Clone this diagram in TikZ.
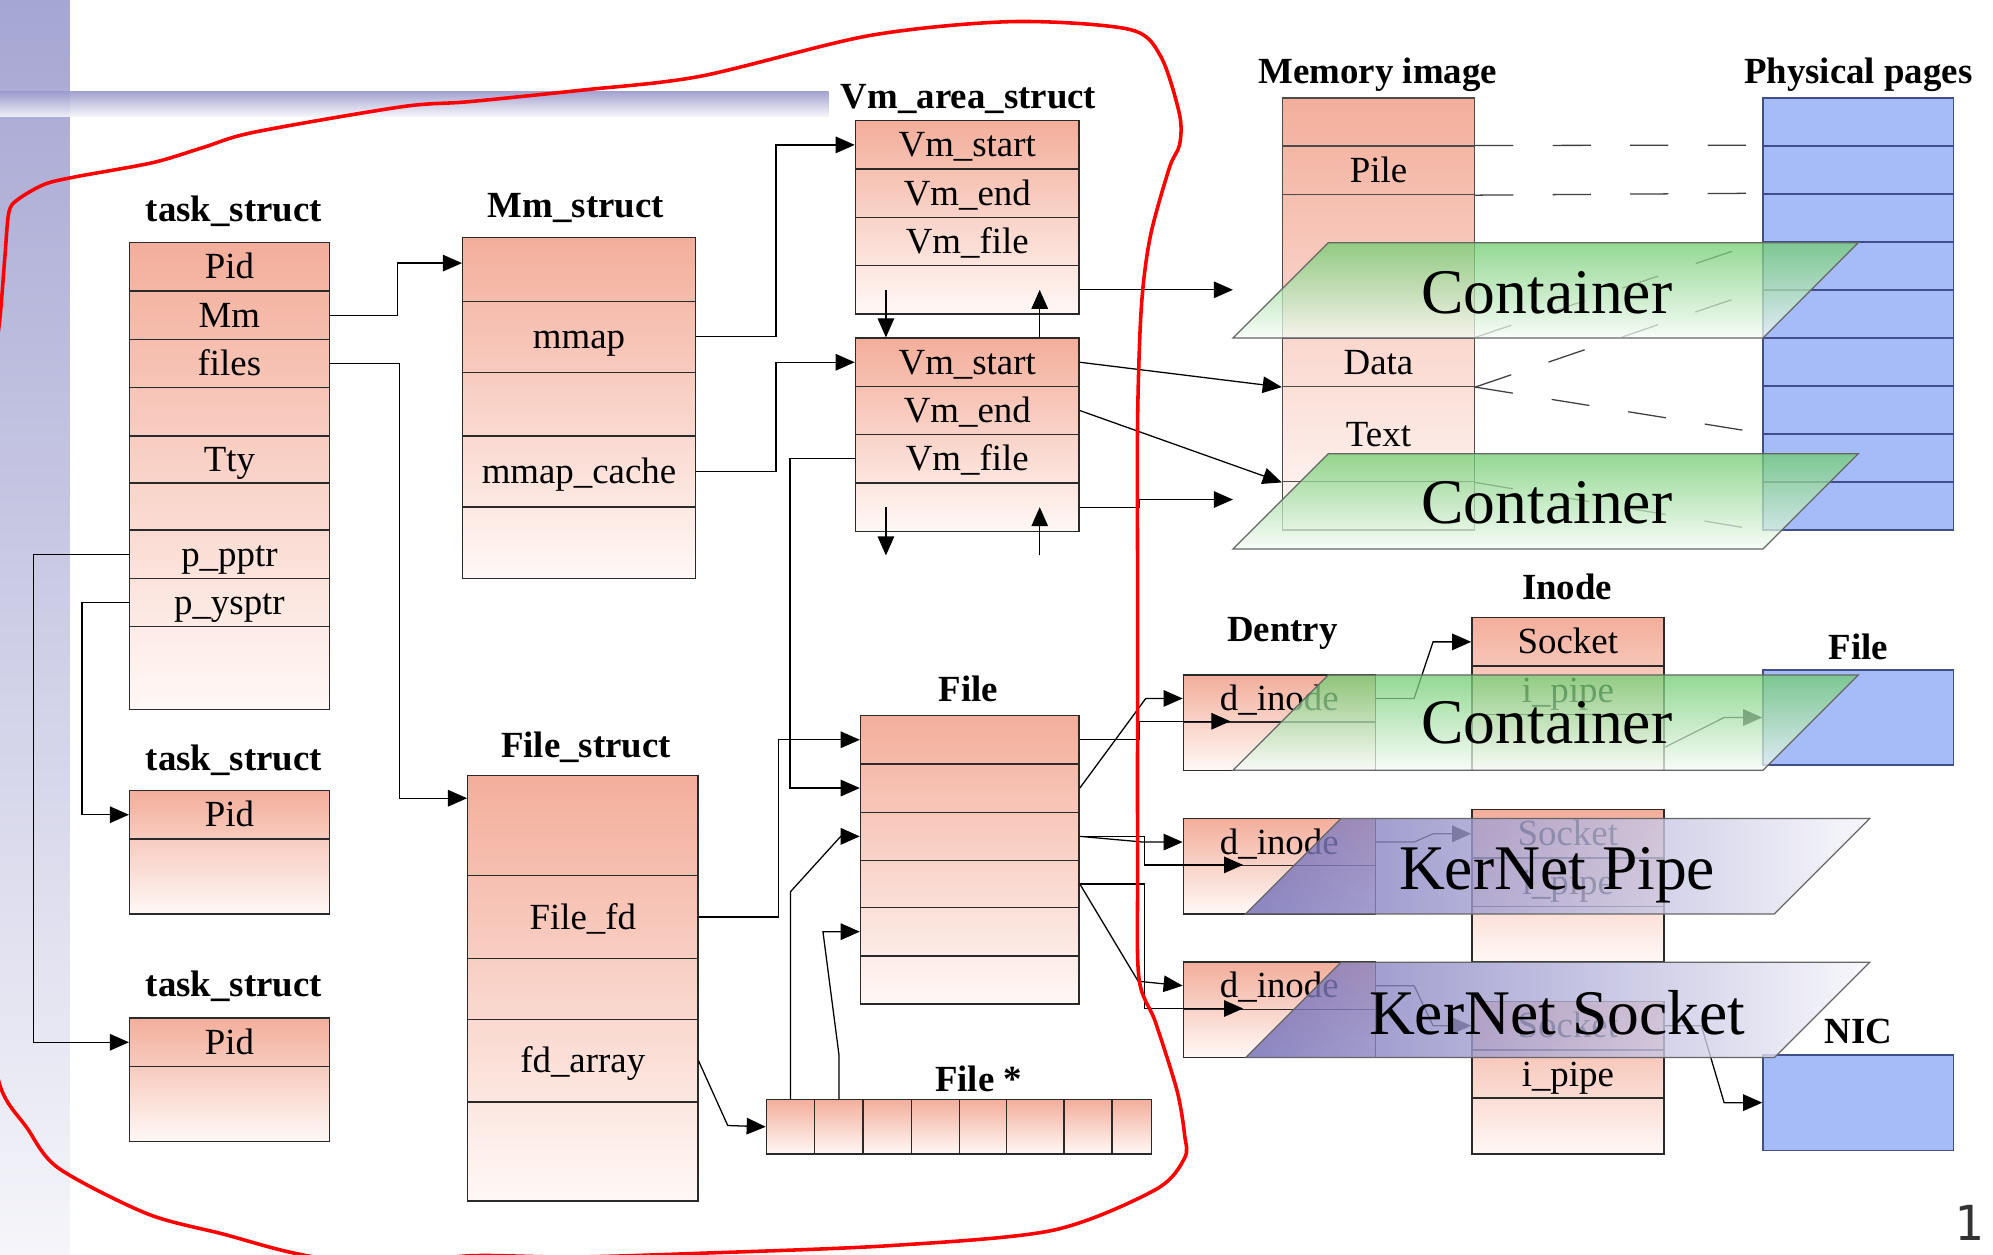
\documentclass[tikz,border=0pt]{standalone}
\usepackage{fontspec}
\setmainfont{Liberation Serif}
\newfontfamily\pgnum{DejaVu Sans Mono}
\usetikzlibrary{arrows.meta,calc}
\definecolor{salT}{HTML}{F3AE9B}
\definecolor{salB}{HTML}{FFF8F6}
\definecolor{lineC}{HTML}{2A2A2A}
\definecolor{physB}{HTML}{A5BCF9}
\definecolor{physL}{HTML}{404E8C}
\definecolor{grnT}{HTML}{70CC70}
\definecolor{grnB}{HTML}{F6FCF6}
\definecolor{purL}{HTML}{6F6AB6}
\definecolor{purR}{HTML}{F6F6FB}
\definecolor{stripT}{HTML}{A6A6D3}
\definecolor{stripB}{HTML}{F5F5FA}
\definecolor{barT}{HTML}{9A9ACD}
\definecolor{redC}{HTML}{FF0000}
\begin{document}
\begin{tikzpicture}[x=1pt,y=-1pt,
  row/.style={draw=lineC, line width=1.1pt, inner sep=0pt, text height=22pt, text depth=3pt, font=\fontsize{29pt}{30pt}\selectfont},
  ttl/.style={inner sep=0pt, text height=24pt, text depth=2pt, font=\fontsize{29pt}{30pt}\selectfont\bfseries},
  big/.style={inner sep=0pt, text height=34pt, text depth=0pt, font=\fontsize{50pt}{52pt}\selectfont},
  tsw/.style={minimum width=157pt},
  mmw/.style={minimum width=183pt},
  vmw/.style={minimum width=176pt},
  fsw/.style={minimum width=181pt},
  flw/.style={minimum width=172pt},
  mw/.style={minimum width=151pt},
  cell/.style={row, minimum height=43pt},
  physbox/.style={draw=physL, fill=physB, line width=1.1pt, inner sep=0pt, minimum width=150pt},
  conn/.style={draw=black, line width=1pt, -{Triangle[length=15pt,width=13pt]}},
  dsh/.style={draw=black!75, line width=1pt, dash pattern=on 30pt off 31pt},
  salshade/.style={top color=salT, bottom color=salB}
]
\useasboundingbox (0,0) rectangle (1568,987);
\clip (0,0) rectangle (1568,987);
\fill[white] (0,0) rectangle (1568,987);
% background decoration
\shade[top color=stripT, bottom color=stripB] (0,0) rectangle (55,987);
\shade[top color=barT, bottom color=barT!8, fill opacity=0.9] (0,72) rectangle (652,92);

% ---------- task_struct 1
\shade[salshade] (102,191) rectangle (259,558);
\node[row,tsw,minimum height=38pt] (t1pid) at (180.5,210) {Pid};
\node[row,tsw,minimum height=38pt] (t1mm) at (180.5,248) {Mm};
\node[row,tsw,minimum height=38pt] (t1files) at (180.5,286) {files};
\node[row,tsw,minimum height=38pt] (t1e1) at (180.5,324) {};
\node[row,tsw,minimum height=37pt] (t1tty) at (180.5,361.5) {Tty};
\node[row,tsw,minimum height=37pt] (t1e2) at (180.5,398.5) {};
\node[row,tsw,minimum height=38pt] (t1pp) at (180.5,436) {p\_pptr};
\node[row,tsw,minimum height=38pt] (t1ys) at (180.5,474) {p\_ysptr};
\node[row,tsw,minimum height=65pt] (t1e3) at (180.5,525.5) {};
\node[ttl] (t1ttl) at (184,163) {task\_struct};
% task_struct 2
\shade[salshade] (102,622) rectangle (259,719);
\node[row,tsw,minimum height=38pt] (t2pid) at (180.5,641) {Pid};
\node[row,tsw,minimum height=59pt] (t2e) at (180.5,689.5) {};
\node[ttl] (t2ttl) at (184,595) {task\_struct};
% task_struct 3
\shade[salshade] (102,801) rectangle (259,898);
\node[row,tsw,minimum height=38pt] (t3pid) at (180.5,820) {Pid};
\node[row,tsw,minimum height=59pt] (t3e) at (180.5,868.5) {};
\node[ttl] (t3ttl) at (184,773) {task\_struct};

% ---------- Mm_struct
\shade[salshade] (364,187) rectangle (547,455);
\node[row,mmw,minimum height=50pt] (mm1) at (455.5,212) {};
\node[row,mmw,minimum height=56pt] (mmmap) at (455.5,265) {mmap};
\node[row,mmw,minimum height=50pt] (mm3) at (455.5,318) {};
\node[row,mmw,minimum height=56pt] (mmcache) at (455.5,371) {mmap\_cache};
\node[row,mmw,minimum height=56pt] (mm5) at (455.5,427) {};
\node[ttl] (mmttl) at (453,160) {Mm\_struct};

% ---------- Vm_area_struct
\shade[salshade] (673,95) rectangle (849,247);
\node[row,vmw,minimum height=38pt] (v1s) at (761,114) {Vm\_start};
\node[row,vmw,minimum height=38pt] (v1en) at (761,152) {Vm\_end};
\node[row,vmw,minimum height=38pt] (v1f) at (761,190) {Vm\_file};
\node[row,vmw,minimum height=38pt] (v1e) at (761,228) {};
\shade[salshade] (673,266) rectangle (849,418);
\node[row,vmw,minimum height=38pt] (v2s) at (761,285) {Vm\_start};
\node[row,vmw,minimum height=38pt] (v2en) at (761,323) {Vm\_end};
\node[row,vmw,minimum height=38pt] (v2f) at (761,361) {Vm\_file};
\node[row,vmw,minimum height=38pt] (v2e) at (761,399) {};
\node[ttl] (vmttl) at (762,74) {Vm\_area\_struct};

% ---------- File_struct
\shade[salshade] (368,610) rectangle (549,945);
\node[row,fsw,minimum height=79pt] (fs1) at (458.5,649.5) {};
\node[row,fsw,minimum height=65pt] (fsfd) at (458.5,721.5) {File\_fd};
\node[row,fsw,minimum height=48pt] (fs3) at (458.5,778) {};
\node[row,fsw,minimum height=65pt] (fsarr) at (458.5,834.5) {fd\_array};
\node[row,fsw,minimum height=78pt] (fs5) at (458.5,906) {};
\node[ttl] (fsttl) at (461,585) {File\_struct};

% ---------- File
\shade[salshade] (677,563) rectangle (849,790);
\node[row,flw,minimum height=38pt] (f1) at (763,582) {};
\node[row,flw,minimum height=38pt] (f2) at (763,620) {};
\node[row,flw,minimum height=38pt] (f3) at (763,658) {};
\node[row,flw,minimum height=37pt] (f4) at (763,695.5) {};
\node[row,flw,minimum height=38pt] (f5) at (763,733) {};
\node[row,flw,minimum height=38pt] (f6) at (763,771) {};
\node[ttl] (flttl) at (762,541) {File};

% ---------- File * array
\shade[salshade] (603,865) rectangle (906,908);
\node[cell,minimum width=38pt] (fa1) at (622,886.5) {};
\node[cell,minimum width=38pt] (fa2) at (660,886.5) {};
\node[cell,minimum width=38pt] (fa3) at (698,886.5) {};
\node[cell,minimum width=38pt] (fa4) at (736,886.5) {};
\node[cell,minimum width=37pt] (fa5) at (773.5,886.5) {};
\node[cell,minimum width=45pt] (fa6) at (814.5,886.5) {};
\node[cell,minimum width=38pt] (fa7) at (856,886.5) {};
\node[cell,minimum width=31pt] (fa8) at (890.5,886.5) {};
\node[ttl] (fattl) at (770,848) {File *};

% ---------- Memory image
\shade[salshade] (1009,77) rectangle (1160,417);
\node[row,mw,minimum height=38pt,draw=black!70] (m1) at (1084.5,96) {};
\node[row,mw,minimum height=38pt,draw=black!70] (mpile) at (1084.5,134) {Pile};
\node[row,mw,minimum height=113pt,draw=black!70] (m3) at (1084.5,209.5) {};
\node[row,mw,minimum height=38pt,draw=black!70] (mdata) at (1084.5,285) {Data};
\node[row,mw,minimum height=75pt,draw=black!70] (mtext) at (1084.5,341.5) {Text};
\node[row,mw,minimum height=38pt,draw=black!70] (m6) at (1084.5,398) {};
\node[ttl] (mttl) at (1084,55) {Memory image};

% ---------- Physical pages
\foreach \i in {0,...,8} {
  \node[physbox,minimum height=37.78pt] (pp\i) at (1462,{77+37.78*(\i+0.5)}) {};
}
\node[ttl] (ppttl) at (1462,55) {Physical pages};

% dashed mapping lines
\draw[dsh] (mpile.north east) -- (pp1.north west);
\draw[dsh] (mpile.south east) -- (pp2.north west);
\draw[dsh] (mdata.north east) -- (pp3.north west);
\draw[dsh] (mdata.south east) -- (pp4.north west);
\draw[dsh] (mdata.south east) -- (pp7.north west);
\draw[dsh] (mtext.south east) -- (pp8.south west);

% ---------- Dentry
\shade[salshade] (931,531) rectangle (1082,606);
\node[row,mw,minimum height=37pt] (d1a) at (1006.5,549.5) {d\_inode};
\node[row,mw,minimum height=38pt] (d1b) at (1006.5,587) {};
\shade[salshade] (931,644) rectangle (1082,719);
\node[row,mw,minimum height=37pt] (d2a) at (1006.5,662.5) {d\_inode};
\node[row,mw,minimum height=38pt] (d2b) at (1006.5,700) {};
\shade[salshade] (931,757) rectangle (1082,832);
\node[row,mw,minimum height=37pt] (d3a) at (1006.5,775.5) {d\_inode};
\node[row,mw,minimum height=38pt] (d3b) at (1006.5,813) {};
\node[ttl] (dttl) at (1009,494) {Dentry};

% ---------- Inode
\shade[salshade] (1158,486) rectangle (1309,606);
\node[row,mw,minimum height=38pt] (i1s) at (1233.5,505) {Socket};
\node[row,mw,minimum height=38pt] (i1p) at (1233.5,543) {i\_pipe};
\node[row,mw,minimum height=44pt] (i1e) at (1233.5,584) {};
\shade[salshade] (1158,637) rectangle (1309,757);
\node[row,mw,minimum height=38pt] (i2s) at (1233.5,656) {Socket};
\node[row,mw,minimum height=38pt] (i2p) at (1233.5,694) {i\_pipe};
\node[row,mw,minimum height=44pt] (i2e) at (1233.5,735) {};
\shade[salshade] (1158,788) rectangle (1309,908);
\node[row,mw,minimum height=38pt] (i3s) at (1233.5,807) {Socket};
\node[row,mw,minimum height=38pt] (i3p) at (1233.5,845) {i\_pipe};
\node[row,mw,minimum height=44pt] (i3e) at (1233.5,886) {};
\node[ttl] (ittl) at (1233,461) {Inode};

% ---------- File / NIC
\node[physbox,minimum height=75pt] (fR) at (1462,564.5) {};
\node[ttl] (fRttl) at (1462,508) {File};
\node[physbox,minimum height=75pt] (nic) at (1462,867.5) {};
\node[ttl] (nicttl) at (1462,810) {NIC};

% ---------- connectors
\draw[conn] (t1mm.east) -- ++(53,0) |- ([yshift=5pt]mm1.west);
\draw[conn] (t1files.east) -- ++(55,0) |- ([yshift=21.5pt]fs1.west);
\draw[conn] (mmmap.east) -- ++(63,0) |- (v1s.west);
\draw[conn] (mmcache.east) -- ++(63,0) |- (v2s.west);
\draw[conn] (t1pp.west) -- ++(-75,0) |- (t3pid.west);
\draw[conn] (t1ys.west) -- ++(-37,0) |- (t2pid.west);
\draw[conn] ([xshift=-64pt]v1e.center) -- ([xshift=-64pt]v2s.north);
\draw[conn] ([xshift=57pt]v2s.north) -- ([xshift=57pt]v1e.center);
\coordinate (v2dn) at (697,437);
\coordinate (v2up) at (818,437);
\draw[conn] ([xshift=-64pt]v2e.center) -- (v2dn);
\draw[conn] (v2up) -- ([xshift=57pt]v2e.center);
\coordinate (c1in) at (970,228);
\coordinate (c2in) at (970,393);
\draw[conn] (v1e.east) -- (c1in);
\draw[conn] (v2s.east) -- (mdata.south west);
\draw[conn] (v2en.east) -- (mtext.south west);
\draw[conn] (v2e.east) -- ++(47,0) |- (c2in);
\draw[conn] (fsfd.east) -- ++(63,0) |- (f1.west);
\draw[conn] (v2f.west) -- ++(-51,0) |- (f2.west);
\draw[conn] (fsarr.east) -- ++(23,51) -- (fa1.west);
\draw[conn] (fa1.north) -- ++(0,-163) -- ([xshift=-15pt]f3.west) -- (f3.west);
\draw[conn] (fa2.north) -- ++(0,-35) -- ([xshift=-29pt]f5.west) -- (f5.west);
\draw[conn] (f2.east) -- ([xshift=-29pt]d1a.west) -- (d1a.west);
\draw[conn] (f1.east) -- ++(47,0) |- ([xshift=-38.5pt]d1b.north);
\draw[conn] (f3.east) -- ([xshift=-31pt]d2a.west) -- (d2a.west);
\draw[conn] (f3.east) -- ++(51,0) |- ([xshift=-28.5pt]d2b.north);
\draw[conn] (f4.east) -- ++(51,0) |- ([xshift=-28.5pt]d3b.north);
\draw[conn] (f4.east) -- ([xshift=-35pt,yshift=3.5pt]d3a.west) -- (d3a.west);
\draw[conn] (d1a.east) -- ++(30,0) -- ([xshift=-30pt]i1s.west) -- (i1s.west);
\draw[conn] (d2a.east) -- ++(30,0) -- ([xshift=-30pt]i2s.west) -- (i2s.west);
\draw[conn] (d3a.east) -- ++(30,0) -- ([xshift=-30pt]i3s.west) -- (i3s.west);
\draw[conn] ([yshift=-4pt]i1e.east) -- ([xshift=-30pt]fR.west) -- (fR.west);
\draw[conn] (i3s.east) -- ++(29,0) -- ([xshift=-30pt]nic.west) -- (nic.west);

% ---------- overlays
\shadedraw[top color=grnT, bottom color=grnB, fill opacity=0.75, draw=black!60, line width=1pt]
  (970,266) -- (1387,266) -- (1462,191) -- (1045,191) -- cycle;
\shadedraw[top color=grnT, bottom color=grnB, fill opacity=0.75, draw=black!60, line width=1pt]
  (970,432) -- (1387,432) -- (1462,357) -- (1045,357) -- cycle;
\shadedraw[top color=grnT, bottom color=grnB, fill opacity=0.75, draw=black!60, line width=1pt]
  (970,606) -- (1387,606) -- (1462,531) -- (1045,531) -- cycle;
\shadedraw[left color=purL, right color=purR, fill opacity=0.8, draw=black!60, line width=1pt]
  (980,719) -- (1396,719) -- (1471,644) -- (1055,644) -- cycle;
\shadedraw[left color=purL, right color=purR, fill opacity=0.8, draw=black!60, line width=1pt]
  (980,832) -- (1396,832) -- (1471,757) -- (1055,757) -- cycle;
\node[big] (ct1) at (1217,230) {Container};
\node[big] (ct2) at (1217,395) {Container};
\node[big] (ct3) at (1217,568) {Container};
\node[big] (kp) at (1225,683) {KerNet Pipe};
\node[big] (ks) at (1225,797) {KerNet Socket};

% ---------- red freehand loop
\draw[redC, line width=2.8pt, line join=round] plot[smooth cycle, tension=0.5] coordinates {
 (7,167) (14,157) (35,145) (60,139) (120,128) (160,116) (200,104) (316,84) (369,80)
 (457,71) (551,60) (684,28) (796,17) (888,23) (913,44) (928,90) (928,114) (920,132)
 (905,186) (898,241) (895,331) (895,470) (895,680) (896,769) (909,804) (926,858)
 (932,893) (932,911) (909,936) (828,968) (700,980) (551,986) (450,989) (369,988)
 (300,996) (232,986) (176,971) (116,955) (46,919) (21,887) (0,854) (-12,780)
 (-20,600) (-15,400) (-5,290) (0,250) (4,200)};

% page number
\node[inner sep=0pt, font=\pgnum\fontsize{38pt}{38pt}\selectfont, text=black!80] (pgn) at (1549,962) {1};
\end{tikzpicture}
\end{document}
